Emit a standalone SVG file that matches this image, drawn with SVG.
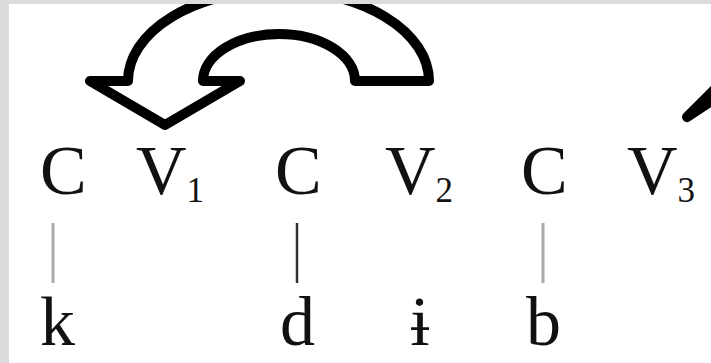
<svg xmlns="http://www.w3.org/2000/svg" width="711" height="363" viewBox="0 0 711 363">
  <defs>
    <style>
      .seg { font-family: "Liberation Serif", "Times New Roman", serif; font-size: 70px; fill: #111; }
      .sub { font-size: 35px; }
      .arrow { fill: none; stroke: #000; stroke-width: 10; stroke-linejoin: round; stroke-linecap: round; }
      .assoc-light { stroke: #aaaaaa; stroke-width: 3; }
      .assoc-dark { stroke: #333333; stroke-width: 2.5; }
    </style>
    <clipPath id="page">
      <rect x="9" y="4" width="702" height="359"/>
    </clipPath>
  </defs>
  <rect x="0" y="0" width="711" height="363" fill="#dcdcdc"/>
  <rect x="9" y="4" width="702" height="359" fill="#ffffff"/>

  <g id="arrows" clip-path="url(#page)">
    <path id="curved-arrow" class="arrow" d="M 90 81 L 128 81 A 150.5 91 0 0 1 429 81 L 355 81 A 76 47 0 0 0 203 81 L 240 81 L 165 125 Z"/>
    <path id="partial-arrow" class="arrow" stroke-width="8" d="M 716 88 L 687 117 L 716 98"/>
  </g>

  <g id="skeleton">
    <g id="C1"><text class="seg" x="40" y="194">C</text></g>
    <g id="V1"><text class="seg" x="136" y="194">V<tspan class="sub" dy="8">1</tspan></text></g>
    <g id="C2"><text class="seg" x="275" y="194">C</text></g>
    <g id="V2"><text class="seg" x="385" y="194">V<tspan class="sub" dy="8">2</tspan></text></g>
    <g id="C3"><text class="seg" x="521" y="194">C</text></g>
    <g id="V3"><text class="seg" x="627" y="194">V<tspan class="sub" dy="8">3</tspan></text></g>
  </g>

  <g id="connectors">
    <line class="assoc-light" x1="53" y1="223" x2="53" y2="283"/>
    <line class="assoc-dark" x1="297" y1="223" x2="297" y2="283"/>
    <line class="assoc-light" x1="543" y1="223" x2="543" y2="283"/>
  </g>

  <g id="melody">
    <g id="k"><text class="seg" x="40" y="345">k</text></g>
    <g id="d"><text class="seg" x="280" y="345">d</text></g>
    <g id="barred-i"><text class="seg" x="420" y="345" text-anchor="middle">ɨ</text></g>
    <g id="b"><text class="seg" x="526" y="345">b</text></g>
  </g>
</svg>
